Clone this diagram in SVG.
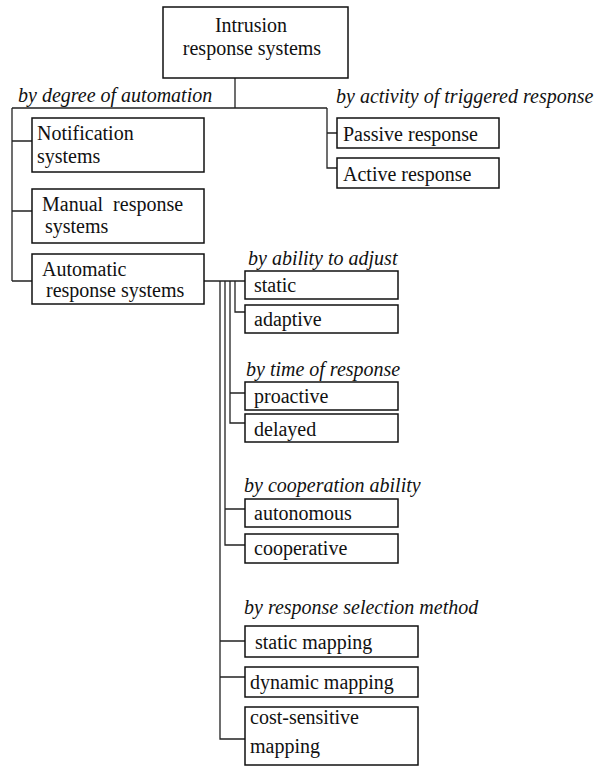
<svg xmlns="http://www.w3.org/2000/svg" width="599" height="766" viewBox="0 0 599 766">
  <style>
    .box { fill: #ffffff; stroke: #111111; stroke-width: 1.5; }
    .t { font-family: 'Liberation Serif', 'DejaVu Serif', serif; font-size: 20px; fill: #111111; white-space: pre; }
    .lbl { font-family: 'Liberation Serif', 'DejaVu Serif', serif; font-size: 20px; font-style: italic; fill: #111111; }
    .wire { fill: none; stroke: #222222; stroke-width: 1.3; }
  </style>
  <rect width="599" height="766" fill="#ffffff"/>

  <!-- connectors -->
  <g id="connectors" class="wire">
    <!-- root trunk -->
    <path d="M235 78 V108 M12 108 H327"/>
    <!-- degree of automation -->
    <path d="M12 108 V281 M12 141 H32 M12 211 H32 M12 281 H32"/>
    <!-- activity of triggered response -->
    <path d="M327 108 V168 H337 M327 133 H337"/>
    <!-- automatic response systems branches -->
    <path d="M204 281 H245"/>
    <path d="M235 281 V312 H245"/>
    <path d="M230 281 V423 H245 M230 393 H245"/>
    <path d="M225 281 V545 H245 M225 509 H245"/>
    <path d="M220 281 V739 H245 M220 641 H245 M220 677 H245"/>
  </g>

  <!-- category labels -->
  <g id="labels">
    <text class="lbl" x="18" y="102">by degree of automation</text>
    <text class="lbl" x="336" y="103">by activity of triggered response</text>
    <text class="lbl" x="248" y="265">by ability to adjust</text>
    <text class="lbl" x="246" y="376">by time of response</text>
    <text class="lbl" x="244" y="492">by cooperation ability</text>
    <text class="lbl" x="244" y="614">by response selection method</text>
  </g>

  <g id="root">
    <rect class="box" x="163" y="7" width="185" height="71"/>
    <text class="t" x="251" y="32" text-anchor="middle">Intrusion</text>
    <text class="t" x="252" y="55" text-anchor="middle">response systems</text>
  </g>

  <g id="notification">
    <rect class="box" x="32" y="118" width="172" height="54"/>
    <text class="t" x="37" y="140">Notification</text>
    <text class="t" x="37" y="163">systems</text>
  </g>

  <g id="manual">
    <rect class="box" x="32" y="189" width="172" height="54"/>
    <text class="t" x="42" y="211">Manual  response</text>
    <text class="t" x="45" y="233">systems</text>
  </g>

  <g id="automatic">
    <rect class="box" x="32" y="254" width="172" height="50"/>
    <text class="t" x="42" y="276">Automatic</text>
    <text class="t" x="46" y="297">response systems</text>
  </g>

  <g id="passive">
    <rect class="box" x="337" y="118" width="162" height="30"/>
    <text class="t" x="343" y="141">Passive response</text>
  </g>

  <g id="active">
    <rect class="box" x="337" y="158" width="162" height="30"/>
    <text class="t" x="343" y="181">Active response</text>
  </g>

  <g id="static">
    <rect class="box" x="245" y="271" width="153" height="28"/>
    <text class="t" x="254" y="292">static</text>
  </g>

  <g id="adaptive">
    <rect class="box" x="245" y="305" width="153" height="28"/>
    <text class="t" x="254" y="326">adaptive</text>
  </g>

  <g id="proactive">
    <rect class="box" x="245" y="382" width="153" height="28"/>
    <text class="t" x="254" y="403">proactive</text>
  </g>

  <g id="delayed">
    <rect class="box" x="245" y="414" width="153" height="28"/>
    <text class="t" x="254" y="436">delayed</text>
  </g>

  <g id="autonomous">
    <rect class="box" x="245" y="499" width="153" height="28"/>
    <text class="t" x="254" y="520">autonomous</text>
  </g>

  <g id="cooperative">
    <rect class="box" x="245" y="534" width="153" height="29"/>
    <text class="t" x="254" y="555">cooperative</text>
  </g>

  <g id="static-mapping">
    <rect class="box" x="245" y="626" width="173" height="31"/>
    <text class="t" x="255" y="649">static mapping</text>
  </g>

  <g id="dynamic-mapping">
    <rect class="box" x="245" y="667" width="173" height="30"/>
    <text class="t" x="250" y="689">dynamic mapping</text>
  </g>

  <g id="cost-sensitive-mapping">
    <rect class="box" x="245" y="707" width="173" height="58"/>
    <text class="t" x="250" y="724">cost-sensitive</text>
    <text class="t" x="250" y="753">mapping</text>
  </g>
</svg>
